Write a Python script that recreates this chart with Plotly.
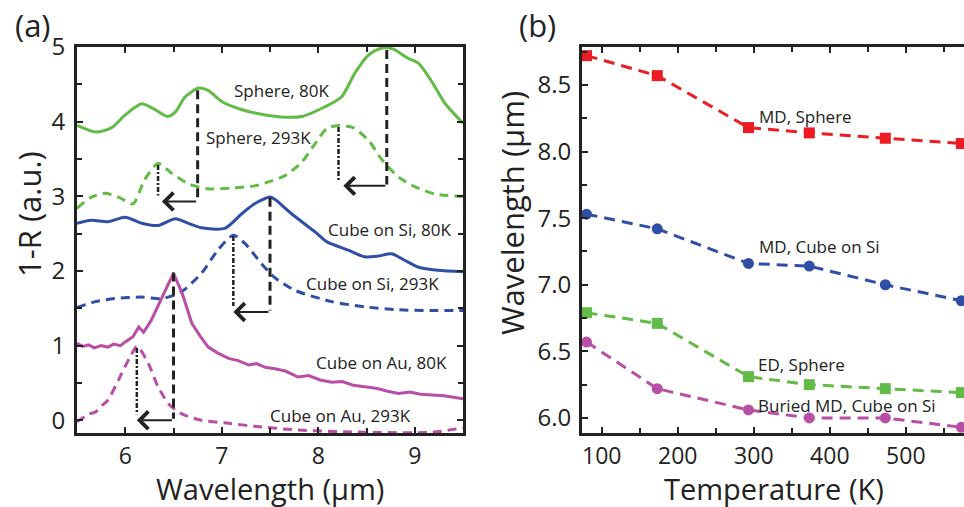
import plotly.graph_objects as go

# ---------------- Panel (a) data: spectra (wavelength um, 1-R offset) ----------------
sph80_x = [5.5, 5.70, 5.86, 6.0, 6.17, 6.31, 6.44, 6.52, 6.62, 6.76, 6.86, 7.0, 7.21, 7.41, 7.66, 7.83, 8.07, 8.24, 8.38, 8.52, 8.64, 8.72, 8.78, 8.93, 9.04, 9.18, 9.31, 9.47, 9.5]
sph80_y = [3.95, 3.86, 3.92, 4.09, 4.24, 4.16, 4.07, 4.13, 4.33, 4.45, 4.42, 4.27, 4.16, 4.10, 4.06, 4.07, 4.20, 4.33, 4.65, 4.89, 4.98, 4.99, 4.97, 4.85, 4.78, 4.53, 4.25, 4.02, 3.98]

sph293_x = [5.5, 5.65, 5.79, 5.93, 6.08, 6.20, 6.34, 6.48, 6.65, 6.86, 7.10, 7.34, 7.50, 7.66, 7.83, 7.97, 8.09, 8.21, 8.36, 8.52, 8.66, 8.83, 9.00, 9.21, 9.5]
sph293_y = [2.84, 2.99, 3.04, 2.99, 2.90, 3.22, 3.44, 3.31, 3.17, 3.10, 3.11, 3.14, 3.20, 3.28, 3.46, 3.71, 3.91, 3.95, 3.92, 3.75, 3.49, 3.26, 3.13, 3.03, 3.00]

si80_x = [5.5, 5.65, 5.82, 6.0, 6.17, 6.34, 6.52, 6.65, 6.79, 7.03, 7.21, 7.34, 7.50, 7.55, 7.72, 7.97, 8.09, 8.31, 8.48, 8.62, 8.76, 8.90, 9.04, 9.24, 9.5]
si80_y = [2.64, 2.68, 2.66, 2.72, 2.64, 2.61, 2.70, 2.64, 2.58, 2.57, 2.77, 2.90, 2.99, 2.96, 2.77, 2.52, 2.39, 2.28, 2.19, 2.20, 2.23, 2.14, 2.05, 2.01, 1.99]

si293_x = [5.5, 5.69, 5.89, 6.17, 6.38, 6.58, 6.79, 6.96, 7.12, 7.24, 7.41, 7.55, 7.76, 8.14, 8.48, 8.83, 9.18, 9.5]
si293_y = [1.51, 1.59, 1.63, 1.65, 1.63, 1.72, 1.97, 2.28, 2.48, 2.37, 2.10, 1.91, 1.74, 1.59, 1.52, 1.48, 1.47, 1.47]

au80_x = [5.5, 5.56, 5.62, 5.68, 5.75, 5.82, 5.88, 5.95, 6.0, 6.08, 6.14, 6.19, 6.27, 6.38, 6.50, 6.59, 6.69, 6.78, 6.86, 6.96, 7.07, 7.17, 7.28, 7.36, 7.45, 7.55, 7.66, 7.79, 7.90, 8.02, 8.14, 8.25, 8.36, 8.48, 8.60, 8.72, 8.83, 8.95, 9.06, 9.18, 9.30, 9.40, 9.5]
au80_y = [1.03, 0.99, 1.01, 0.97, 1.00, 0.98, 1.02, 1.00, 1.05, 1.12, 1.25, 1.18, 1.34, 1.65, 1.97, 1.70, 1.30, 1.12, 0.98, 0.90, 0.83, 0.80, 0.74, 0.76, 0.71, 0.69, 0.66, 0.58, 0.60, 0.54, 0.51, 0.52, 0.47, 0.45, 0.43, 0.39, 0.36, 0.38, 0.35, 0.34, 0.33, 0.31, 0.29]

au293_x = [5.5, 5.62, 5.69, 5.76, 5.82, 5.93, 6.05, 6.12, 6.15, 6.24, 6.34, 6.45, 6.58, 6.79, 7.07, 7.34, 7.79, 8.48, 9.18, 9.5]
au293_y = [-0.02, 0.08, 0.11, 0.20, 0.27, 0.54, 0.85, 0.99, 0.96, 0.76, 0.45, 0.22, 0.09, 0.00, -0.04, -0.08, -0.13, -0.16, -0.16, -0.10]

spec_labels = ["Sphere, 80K", "Sphere, 293K", "Cube on Si, 80K", "Cube on Si, 293K", "Cube on Au, 80K", "Cube on Au, 293K"]
label_x = [7.62, 7.38, 8.74, 8.56, 8.66, 8.23]
label_y = [4.42, 3.79, 2.55, 1.83, 0.78, 0.07]

# Peak shifts: 80K peak, 293K peak, their heights, and the level of the shift arrow
peak80 = [6.75, 8.71, 7.50, 6.50]
peak80_top = [4.42, 4.96, 2.98, 1.98]
peak293 = [6.34, 8.21, 7.12, 6.12]
peak293_top = [3.42, 3.93, 2.47, 0.97]
arrow_level = [2.93, 3.14, 1.45, 0.00]
arrow_end = [6.38, 8.26, 7.12, 6.12]

# ---------------- Panel (b) data ----------------
temps = [80, 173, 293, 373, 473, 573]
md_sphere = [8.72, 8.57, 8.18, 8.14, 8.10, 8.06]
md_cube_si = [7.53, 7.42, 7.16, 7.14, 7.00, 6.88]
ed_sphere = [6.79, 6.71, 6.31, 6.25, 6.22, 6.19]
buried_md = [6.57, 6.22, 6.06, 6.00, 6.00, 5.93]
b_labels = ["MD, Sphere", "MD, Cube on Si", "ED, Sphere", "Buried MD, Cube on Si"]
b_label_t = [304, 304, 303, 303]
b_label_w = [8.26, 7.29, 6.40, 6.09]

GREEN = "#62bb46"
BLUE = "#2f4fa6"
MAG = "#b84ea6"
RED = "#ed1c24"
FONT = "Open Sans"
INK = "#222222"

fig = go.Figure()

def spec(x, y, color, dash, shape="spline"):
    fig.add_trace(go.Scatter(x=x, y=y, mode="lines", xaxis="x", yaxis="y",
                             line=dict(color=color, width=3, dash=dash, shape=shape, smoothing=0.7),
                             showlegend=False, hoverinfo="skip"))

spec(sph80_x, sph80_y, GREEN, "solid")
spec(sph293_x, sph293_y, GREEN, "9px,6px")
spec(si80_x, si80_y, BLUE, "solid")
spec(si293_x, si293_y, BLUE, "9px,6px")
spec(au80_x, au80_y, MAG, "solid", "linear")
spec(au293_x, au293_y, MAG, "9px,6px")

# vertical marker lines
for i in range(len(peak80)):
    fig.add_trace(go.Scatter(x=[peak80[i], peak80[i]], y=[peak80_top[i], arrow_level[i] + 0.02],
                             mode="lines", xaxis="x", yaxis="y",
                             line=dict(color=INK, width=3, dash="9px,5px"),
                             showlegend=False, hoverinfo="skip"))
    fig.add_trace(go.Scatter(x=[peak293[i], peak293[i]], y=[peak293_top[i], arrow_level[i] + 0.08],
                             mode="lines", xaxis="x", yaxis="y",
                             line=dict(color=INK, width=2.5, dash="5px,2px,2px,2px"),
                             showlegend=False, hoverinfo="skip"))

annotations = []
for i in range(len(peak80)):
    annotations.append(dict(x=arrow_end[i], y=arrow_level[i], ax=peak80[i], ay=arrow_level[i],
                            xref="x", yref="y", axref="x", ayref="y", text="", showarrow=True,
                            arrowhead=4, arrowsize=1.7, arrowwidth=2, arrowcolor=INK))

for t, x, y in zip(spec_labels, label_x, label_y):
    annotations.append(dict(x=x, y=y, xref="x", yref="y", text=t, showarrow=False,
                            font=dict(family=FONT, size=17, color=INK), xanchor="center", yanchor="middle"))

# panel (b)
def ser(y, color, symbol):
    fig.add_trace(go.Scatter(x=temps, y=y, mode="lines+markers", xaxis="x2", yaxis="y2",
                             line=dict(color=color, width=3, dash="11px,7px"),
                             marker=dict(color=color, size=11, symbol=symbol),
                             showlegend=False, hoverinfo="skip"))

ser(md_sphere, RED, "square")
ser(md_cube_si, BLUE, "circle")
ser(ed_sphere, GREEN, "square")
ser(buried_md, MAG, "circle")

for t, x, y in zip(b_labels, b_label_t, b_label_w):
    annotations.append(dict(x=x, y=y, xref="x2", yref="y2", text=t, showarrow=False,
                            font=dict(family=FONT, size=17, color=INK), xanchor="left", yanchor="middle"))

W, H = 964, 507

def paper_text(text, px, py, size, angle=0):
    return dict(x=px / W, y=1 - py / H, xref="paper", yref="paper", text=text, showarrow=False,
                xanchor="center", yanchor="middle", textangle=angle, borderpad=0,
                font=dict(family=FONT, size=size, color=INK))

annotations += [
    paper_text("(a)", 33, 25, 31),
    paper_text("(b)", 537, 25, 31),
    paper_text("Wavelength (μm)", 270, 488, 29),
    paper_text("Temperature (K)", 774, 488, 29),
    paper_text("1-R (a.u.)", 29, 214, 31, -90),
    paper_text("Wavelength (μm)", 512, 213, 31, -90),
]

ytickfont = dict(family=FONT, size=24, color=INK)
xtickfont = dict(family=FONT, size=23, color=INK)
ydom = [1 - 433 / H, 1 - 47 / H]
axcommon = dict(showgrid=False, zeroline=False, showline=True, linecolor=INK, linewidth=3,
                ticks="inside", ticklen=6, tickwidth=2, tickcolor=INK, automargin=False)
minor_common = dict(ticks="inside", ticklen=5, tickwidth=2, tickcolor=INK)

fig.update_layout(
    width=W, height=H, margin=dict(l=0, r=0, t=0, b=0, pad=0, autoexpand=False),
    paper_bgcolor="white", plot_bgcolor="white",
    xaxis=dict(domain=[77 / W, 463 / W], range=[5.5, 9.5], tickvals=[6, 7, 8, 9], mirror="ticks",
               minor=dict(dtick=0.5, tick0=5.5, **minor_common), anchor="y", ticklabelstandoff=0,
               tickfont=xtickfont, **axcommon),
    yaxis=dict(domain=ydom, range=[-0.17, 5.0], tickvals=[0, 1, 2, 3, 4, 5], mirror="ticks",
               minor=dict(dtick=0.5, tick0=0, **minor_common), anchor="x", ticklabelstandoff=4,
               tickfont=ytickfont, **axcommon),
    xaxis2=dict(domain=[582 / W, 1.0], range=[74, 576.5], tickvals=[100, 200, 300, 400, 500], mirror="ticks",
                minor=dict(dtick=50, tick0=0, **minor_common), anchor="y2", ticklabelstandoff=0,
                tickfont=xtickfont, **axcommon),
    yaxis2=dict(domain=ydom, range=[5.887, 8.785], tickvals=[6.0, 6.5, 7.0, 7.5, 8.0, 8.5], tickformat=".1f",
                minor=dict(dtick=0.25, tick0=0, **minor_common), anchor="x2", ticklabelstandoff=3,
                tickfont=ytickfont, **axcommon),
    annotations=annotations,
)

fig.write_html("out.html", config={"displayModeBar": False},
               post_script="document.body.style.margin='0';document.body.style.overflow='hidden';")
